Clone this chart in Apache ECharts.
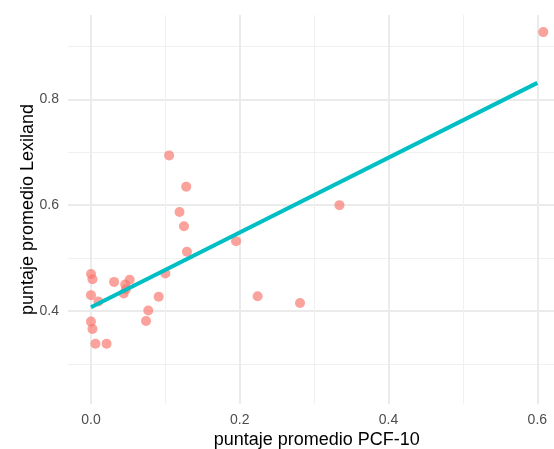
<!DOCTYPE html>
<html>
<head>
<meta charset="utf-8">
<script src="https://cdn.jsdelivr.net/npm/echarts@6/dist/echarts.min.js"></script>
<style>
  html, body { margin: 0; padding: 0; background: #ffffff; }
  #chart { width: 554px; height: 449px; }
</style>
</head>
<body>
<div id="chart"></div>
<script>
// Average PCF-10 score per group (x) and average Lexiland score (y)
const pcf = [
  0.000, 0.002, 0.000, 0.010, 0.000, 0.002, 0.006, 0.021,
  0.031, 0.046, 0.052, 0.047, 0.044, 0.077, 0.074, 0.091,
  0.100, 0.129, 0.125, 0.119, 0.128, 0.105, 0.195, 0.224,
  0.281, 0.334, 0.608
];
const lexiland = [
  0.470, 0.460, 0.430, 0.418, 0.380, 0.366, 0.338, 0.338,
  0.455, 0.450, 0.459, 0.441, 0.433, 0.401, 0.381, 0.427,
  0.471, 0.512, 0.560, 0.587, 0.635, 0.694, 0.532, 0.428,
  0.415, 0.600, 0.927
];

// Linear fit, drawn between its two end points
const fitX = [0.0, 0.6];
const fitY = [0.407, 0.831];

// Gridline / tick positions
const xMajor = [0.0, 0.2, 0.4, 0.6];
const xMinor = [0.1, 0.3, 0.5];
const yMajor = [0.4, 0.6, 0.8];
const yMinor = [0.3, 0.5, 0.7, 0.9];

// Panel extents
const xRange = [-0.0309, 0.638];
const yRange = [0.2243, 0.9593];

const FONT = '"Liberation Sans", Arial, sans-serif';
const GRID_MAJOR = { color: '#ebebeb', width: 2 };
const GRID_MINOR = { color: '#f0f0f0', width: 1 };

function majorAxis(extra, ticks) {
  return Object.assign({
    type: 'value',
    axisLine: { show: false },
    axisTick: { show: false, customValues: ticks },
    axisLabel: {
      customValues: ticks,
      formatter: v => v.toFixed(1),
      color: '#4d4d4d',
      fontFamily: FONT,
      fontSize: 14,
      margin: 9
    },
    splitLine: { show: true, lineStyle: GRID_MAJOR },
    nameLocation: 'middle',
    nameMoveOverlap: false,
    nameTextStyle: { color: '#000000', fontFamily: FONT, fontSize: 18 }
  }, extra);
}

function minorAxis(extra, ticks) {
  return Object.assign({
    type: 'value',
    axisLine: { show: false },
    axisTick: { show: false, customValues: ticks },
    axisLabel: { show: false },
    splitLine: { show: true, lineStyle: GRID_MINOR }
  }, extra);
}

const chart = echarts.init(document.getElementById('chart'), null, { renderer: 'canvas' });

chart.setOption({
  animation: false,
  backgroundColor: '#ffffff',
  // panel runs slightly past the right edge of the canvas
  grid: { left: 68, top: 15, width: 497.6, height: 389, containLabel: false, outerBoundsMode: 'none' },
  xAxis: [
    majorAxis({ position: 'bottom', min: xRange[0], max: xRange[1],
                name: 'puntaje promedio PCF-10', nameGap: 27 }, xMajor),
    minorAxis({ position: 'top', min: xRange[0], max: xRange[1] }, xMinor)
  ],
  yAxis: [
    majorAxis({ position: 'left', min: yRange[0], max: yRange[1],
                name: 'puntaje promedio Lexiland', nameGap: 31, nameRotate: 90 }, yMajor),
    minorAxis({ position: 'right', min: yRange[0], max: yRange[1] }, yMinor)
  ],
  series: [
    {
      type: 'scatter',
      xAxisIndex: 0,
      yAxisIndex: 0,
      data: pcf.map((x, i) => [x, lexiland[i]]),
      symbol: 'circle',
      symbolSize: 10,
      itemStyle: { color: 'rgba(248,118,109,0.85)' },
      silent: true,
      z: 3
    },
    {
      type: 'line',
      xAxisIndex: 0,
      yAxisIndex: 0,
      data: fitX.map((x, i) => [x, fitY[i]]),
      symbol: 'none',
      showSymbol: false,
      lineStyle: { color: '#00bfc4', width: 4, cap: 'butt' },
      silent: true,
      z: 4
    }
  ]
});
</script>
</body>
</html>
